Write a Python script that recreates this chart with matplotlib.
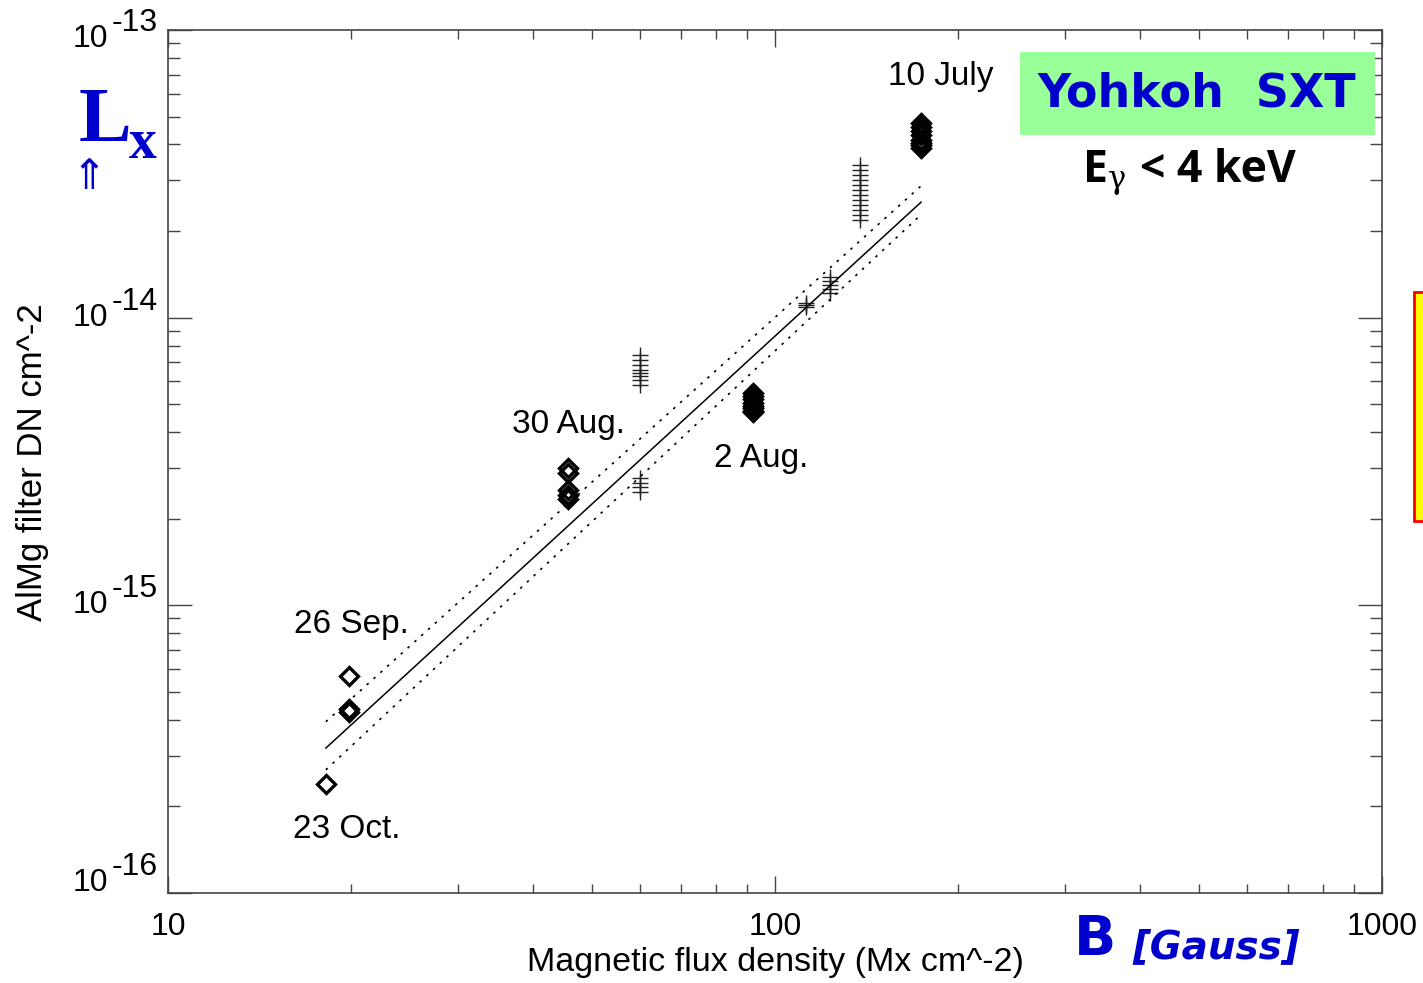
import numpy as np
import matplotlib.pyplot as plt
from matplotlib.patches import Rectangle
from matplotlib.ticker import LogLocator, NullFormatter

plt.rcParams['font.family'] = ['Liberation Sans', 'DejaVu Sans']

W, H = 1423, 983

# ---- data ----
# open diamonds (dates)
oct23_b = [18.2]
oct23_l = [2.39e-16]
sep26_b = [19.9, 19.9, 19.9]
sep26_l = [5.7e-16, 4.35e-16, 4.25e-16]
aug30_b = [45.6, 45.6, 45.6, 45.6, 45.6]
aug30_l = [3.0e-15, 2.88e-15, 2.52e-15, 2.42e-15, 2.34e-15]
aug02_b = [92.1] * 8
aug02_l = [5.47e-15, 5.35e-15, 5.2e-15, 5.05e-15, 4.95e-15, 4.85e-15, 4.75e-15, 4.7e-15]
jul10_b = [174.0] * 8
jul10_l = [4.75e-14, 4.6e-14, 4.45e-14, 4.3e-14, 4.15e-14, 4.05e-14, 3.98e-14, 3.9e-14]

# plus markers
p60_b = [60.0] * 12
p60_l = [7.42e-15, 7.13e-15, 6.85e-15, 6.58e-15, 6.43e-15, 6.27e-15, 6.07e-15, 5.83e-15,
         2.77e-15, 2.66e-15, 2.58e-15, 2.48e-15]
p112_b = [112.5] * 3
p112_l = [1.125e-14, 1.107e-14, 1.089e-14]
p123_b = [123.3] * 5
p123_l = [1.385e-14, 1.343e-14, 1.30e-14, 1.259e-14, 1.22e-14]
p138_b = [138.0] * 12
p138_l = [3.40e-14, 3.26e-14, 3.13e-14, 3.01e-14, 2.89e-14, 2.78e-14, 2.67e-14, 2.56e-14,
          2.46e-14, 2.37e-14, 2.28e-14, 2.19e-14]

# power-law fit and its bounds
fit_b = [18.2, 174.0]
fit_l = [3.19e-16, 2.52e-14]
fit_hi = [3.94e-16, 2.87e-14]
fit_lo = [2.68e-16, 2.28e-14]

xticks = [10, 100, 1000]
xticklabels = ['10', '100', '1000']
yexps = [-16, -15, -14, -13]


def fx(px):
    return px / W


def fy(py):
    return 1 - py / H


fig = plt.figure(figsize=(14.23, 9.83), dpi=100)
ax = fig.add_axes([fx(168), fy(893), (1382 - 168) / W, (893 - 30) / H])
ax.set_xscale('log')
ax.set_yscale('log')
ax.set_xlim(10, 1000)
ax.set_ylim(1e-16, 1e-13)

# data
dkw = dict(ls='none', marker='D', ms=8.7, mfc='none', mec='black', mew=2.4)
for b, l in [(oct23_b, oct23_l), (sep26_b, sep26_l), (aug30_b, aug30_l),
             (aug02_b, aug02_l), (jul10_b, jul10_l)]:
    ax.plot(b, l, **dkw)
pkw = dict(ls='none', marker='+', ms=12, mec='#222222', mew=1.0)
for b, l in [(p60_b, p60_l), (p112_b, p112_l), (p123_b, p123_l), (p138_b, p138_l)]:
    ax.plot(b, l, **pkw)

ax.plot(fit_b, fit_l, color='black', lw=1.1)
ax.plot(fit_b, fit_hi, color='black', lw=1.2, ls=(0, (1.5, 4)))
ax.plot(fit_b, fit_lo, color='black', lw=1.2, ls=(0, (1.5, 4)))

# axes styling (IDL look)
for s in ax.spines.values():
    s.set_color('#444444')
    s.set_linewidth(1.2)
ax.xaxis.set_major_locator(LogLocator(base=10, numticks=10))
ax.xaxis.set_minor_locator(LogLocator(base=10, subs=np.arange(2, 10), numticks=10))
ax.yaxis.set_major_locator(LogLocator(base=10, numticks=10))
ax.yaxis.set_minor_locator(LogLocator(base=10, subs=np.arange(2, 10), numticks=10))
ax.tick_params(axis='x', which='major', direction='in', length=12.2, width=1.0,
               color='#444444', top=True, pad=13.5, labelsize=23)
ax.tick_params(axis='x', which='minor', direction='in', length=6.2, width=1.0,
               color='#444444', top=True)
ax.tick_params(axis='y', which='major', direction='in', length=17.3, width=1.0,
               color='#444444', right=True, labelleft=False)
ax.tick_params(axis='y', which='minor', direction='in', length=8.6, width=1.0,
               color='#444444', right=True)
ax.set_xticks(xticks)
ax.set_xticklabels(xticklabels)
ax.xaxis.set_minor_formatter(NullFormatter())
ax.yaxis.set_minor_formatter(NullFormatter())

# y tick labels 10^-n written by hand
yoff = {-16: 10, -15: 0, -14: 0, -13: -9}
for d in yexps:
    o = yoff[d] * 0.72
    ax.annotate('10', xy=(0, 10.0 ** d), xycoords=('axes fraction', 'data'),
                xytext=(-60 * 0.72, o), textcoords='offset points',
                ha='right', va='center', fontsize=23)
    ax.annotate(str(d), xy=(0, 10.0 ** d), xycoords=('axes fraction', 'data'),
                xytext=(-56 * 0.72, o + 16 * 0.72), textcoords='offset points',
                ha='left', va='center', fontsize=23)

fig.text(fx(775), fy(963), 'Magnetic flux density (Mx cm^-2)', ha='center', va='center',
         fontsize=24.5)
fig.text(fx(33), fy(462), 'AlMg filter DN cm^-2', ha='center', va='center',
         rotation=90, fontsize=25)

# event labels
for txt, x, y in [('10 July', 941, 77), ('30 Aug.', 568, 425), ('2 Aug.', 761, 458),
                  ('26 Sep.', 351, 625), ('23 Oct.', 347, 830)]:
    fig.text(fx(x), fy(y), txt, ha='center', va='center', fontsize=24)

# overlays
blue = '#0000CC'
fig.text(fx(79), fy(141), 'L', ha='left', va='baseline', fontsize=57,
         family='Liberation Serif', weight='bold', color=blue)
fig.text(fx(129), fy(158), 'x', ha='left', va='baseline', fontsize=40,
         family='Liberation Serif', weight='bold', color=blue)
fig.text(fx(89), fy(177), '\u21d1', ha='center', va='center', fontsize=30,
         family='DejaVu Sans', color=blue)

fig.patches.append(Rectangle((fx(1020), fy(135)), (1375 - 1020) / W, (135 - 52) / H,
                             transform=fig.transFigure, fc='#99FF99', ec='none'))
fig.text(fx(1197), fy(94), 'Yohkoh  SXT', ha='center', va='center', fontsize=33,
         family='DejaVu Sans', weight='bold', color=blue)
fig.text(fx(1083), fy(182), 'E', ha='left', va='baseline', fontsize=32,
         family='Open Sans', weight='bold', color='black')
fig.text(fx(1108), fy(188), '\u03b3', ha='left', va='baseline', fontsize=22,
         family='DejaVu Serif', color='black')
fig.text(fx(1140), fy(182), '< 4 keV', ha='left', va='baseline', fontsize=32,
         family='Open Sans', weight='bold', color='black')

fig.text(fx(1074), fy(955), 'B', ha='left', va='baseline', fontsize=40,
         family='DejaVu Sans', weight='bold', color=blue)
fig.text(fx(1132), fy(958), '[Gauss]', ha='left', va='baseline', fontsize=28,
         family='DejaVu Sans', weight='bold', style='italic', color=blue)

fig.patches.append(Rectangle((fx(1414), fy(521)), 20 / W, (521 - 292) / H,
                             transform=fig.transFigure, fc='yellow', ec='red', lw=2))

fig.savefig('out.png', dpi=100)
